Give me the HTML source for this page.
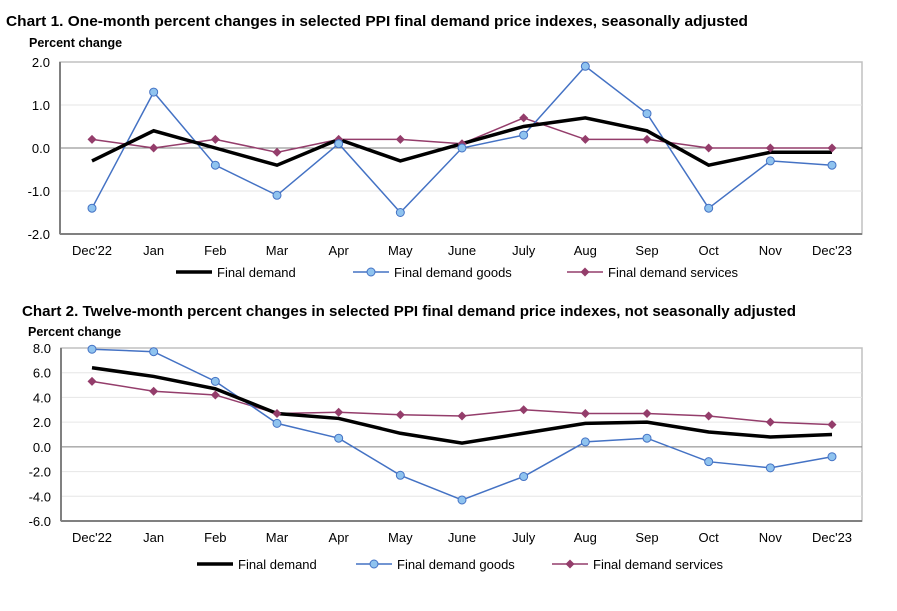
<!DOCTYPE html>
<html><head><meta charset="utf-8">
<style>
body{margin:0;background:#fff;width:897px;height:606px;overflow:hidden;font-family:"Liberation Sans",Arial,sans-serif;}
svg text{font-family:"Liberation Sans",Arial,sans-serif;}
</style></head>
<body>
<svg id="svg" width="897" height="606" xmlns="http://www.w3.org/2000/svg">
<text x="6" y="26" font-size="15" font-weight="bold" fill="#000" textLength="742" lengthAdjust="spacingAndGlyphs">Chart 1. One-month percent changes in selected PPI final demand price indexes, seasonally adjusted</text>
<text x="29" y="47" font-size="12.5" font-weight="bold" fill="#000">Percent change</text>
<text x="22" y="316" font-size="15" font-weight="bold" fill="#000" textLength="774" lengthAdjust="spacingAndGlyphs">Chart 2. Twelve-month percent changes in selected PPI final demand price indexes, not seasonally adjusted</text>
<text x="28" y="336" font-size="12.5" font-weight="bold" fill="#000">Percent change</text>
<g id="c1"></g><g id="c2"></g>
</svg>
<script>
const categories=["Dec'22","Jan","Feb","Mar","Apr","May","June","July","Aug","Sep","Oct","Nov","Dec'23"];
const c1Final=[-0.3,0.4,0.0,-0.4,0.2,-0.3,0.1,0.5,0.7,0.4,-0.4,-0.1,-0.1];
const c1Goods=[-1.4,1.3,-0.4,-1.1,0.1,-1.5,0.0,0.3,1.9,0.8,-1.4,-0.3,-0.4];
const c1Services=[0.2,0.0,0.2,-0.1,0.2,0.2,0.1,0.7,0.2,0.2,0.0,0.0,0.0];
const c1Ticks=[2,1,0,-1,-2];
const c2Final=[6.4,5.7,4.7,2.7,2.3,1.1,0.3,1.1,1.9,2.0,1.2,0.8,1.0];
const c2Goods=[7.9,7.7,5.3,1.9,0.7,-2.3,-4.3,-2.4,0.4,0.7,-1.2,-1.7,-0.8];
const c2Services=[5.3,4.5,4.2,2.7,2.8,2.6,2.5,3.0,2.7,2.7,2.5,2.0,1.8];
const c2Ticks=[8,6,4,2,0,-2,-4,-6];
const NS="http://www.w3.org/2000/svg";
function mk(p,t,a){const e=document.createElementNS(NS,t);for(const k in a)e.setAttribute(k,a[k]);p.appendChild(e);return e;}
function draw(g,cfg){
 const {left,right,top,bottom,min,max,ticks,final,goods,services,id,legY,legX}=cfg;
 const x=i=>92+i*(832-92)/12;
 const y=v=>top+(max-v)/(max-min)*(bottom-top);
 let r=mk(g,'rect',{x:left,y:top,width:right-left,height:bottom-top,fill:'#fff',stroke:'#c0c0c0','stroke-width':1.5});
 
 ticks.forEach(t=>{
  if(t!==max&&t!==min){let l=mk(g,'line',{x1:left,x2:right,y1:y(t),y2:y(t),stroke:t===0?'#808080':'#e6e6e6','stroke-width':1});
  }
  let tx=mk(g,'text',{x:left-10,y:y(t)+5,'text-anchor':'end','font-size':13,fill:'#000'});tx.textContent=t.toFixed(1);
  
 });
 mk(g,'line',{x1:left,x2:left,y1:top,y2:bottom,stroke:'#808080','stroke-width':2});
 mk(g,'line',{x1:left,x2:right,y1:bottom,y2:bottom,stroke:'#808080','stroke-width':2});
 categories.forEach((c,i)=>{let tx=mk(g,'text',{x:x(i),y:bottom+21,'text-anchor':'middle','font-size':13,fill:'#000'});tx.textContent=c;
  });
 const pts=a=>a.map((v,i)=>x(i)+','+y(v)).join(' ');
 let ps=mk(g,'polyline',{points:pts(services),fill:'none',stroke:'#943d6b','stroke-width':1.5});
 
 let pg=mk(g,'polyline',{points:pts(goods),fill:'none',stroke:'#4472c4','stroke-width':1.5});
 
 let pf=mk(g,'polyline',{points:pts(final),fill:'none',stroke:'#000','stroke-width':3.5});
 
 services.forEach((v,i)=>{let d=mk(g,'path',{d:`M${x(i)} ${y(v)-4.5}L${x(i)+4.5} ${y(v)}L${x(i)} ${y(v)+4.5}L${x(i)-4.5} ${y(v)}Z`,fill:'#943d6b'});
  });
 goods.forEach((v,i)=>{let c=mk(g,'circle',{cx:x(i),cy:y(v),r:4,fill:'#8fc3ef',stroke:'#4472c4','stroke-width':1});
  });
 const L=[{t:'Final demand',k:'f'},{t:'Final demand goods',k:'g'},{t:'Final demand services',k:'s'}];
 L.forEach((e,j)=>{const lx=legX[j];
  const lg=mk(g,'g',{});
  if(e.k==='f')mk(lg,'line',{x1:lx,x2:lx+36,y1:legY,y2:legY,stroke:'#000','stroke-width':3.5});
  if(e.k==='g'){mk(lg,'line',{x1:lx,x2:lx+36,y1:legY,y2:legY,stroke:'#4472c4','stroke-width':1.5});mk(lg,'circle',{cx:lx+18,cy:legY,r:4,fill:'#8fc3ef',stroke:'#4472c4'});}
  if(e.k==='s'){mk(lg,'line',{x1:lx,x2:lx+36,y1:legY,y2:legY,stroke:'#943d6b','stroke-width':1.5});mk(lg,'path',{d:`M${lx+18} ${legY-4.5}L${lx+22.5} ${legY}L${lx+18} ${legY+4.5}L${lx+13.5} ${legY}Z`,fill:'#943d6b'});}
  const t=mk(lg,'text',{x:lx+41,y:legY+5,'font-size':13,fill:'#000'});t.textContent=e.t;
 });
}
draw(document.getElementById('c1'),{left:60,right:862,top:62,bottom:234,min:-2,max:2,ticks:c1Ticks,final:c1Final,goods:c1Goods,services:c1Services,id:'chart1',legY:272,legX:[176,353,567]});
draw(document.getElementById('c2'),{left:61,right:862,top:348,bottom:521,min:-6,max:8,ticks:c2Ticks,final:c2Final,goods:c2Goods,services:c2Services,id:'chart2',legY:564,legX:[197,356,552]});
</script>
</body></html>
